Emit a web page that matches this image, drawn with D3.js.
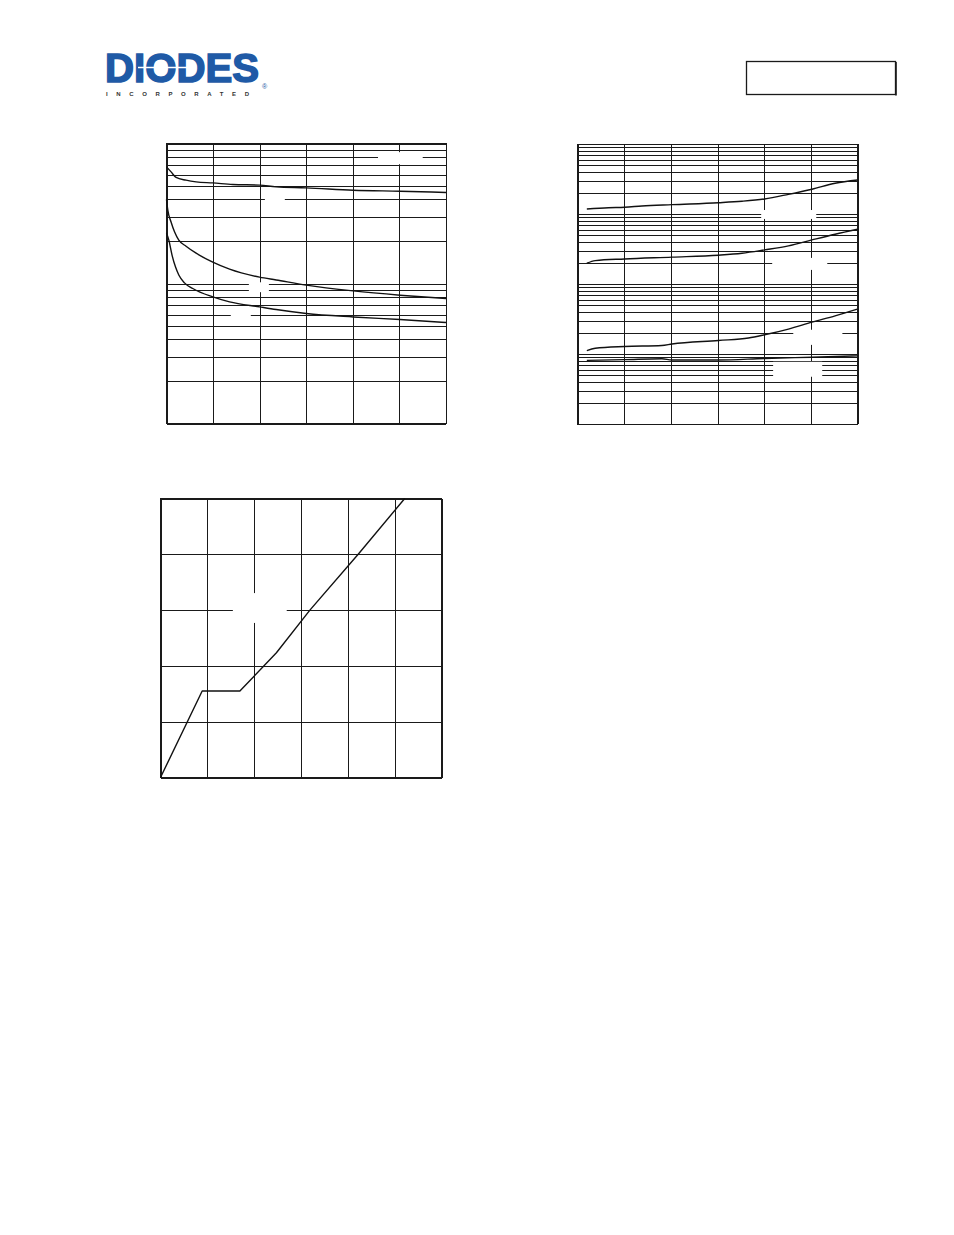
<!DOCTYPE html>
<html>
<head>
<meta charset="utf-8">
<script src="https://cdn.jsdelivr.net/npm/d3@7"></script>
<style>
  html, body { margin: 0; padding: 0; background: #fff; }
  svg { display: block; }
</style>
</head>
<body>
<svg id="page" width="954" height="1235"></svg>
<script>
// ---------- Chart 1: three decreasing curves, log y (2 decades) ----------
const c1XTicks = [0, 5, 10, 15, 20, 25, 30];
const c1CissX = [0, 0.49, 1.03, 2.1, 3.18, 4.97, 7.12, 9.99, 11.77, 15.0, 20.04, 25.06, 30];
const c1Ciss  = [681, 627, 572, 547, 532, 523, 510, 504, 490, 482, 464, 456, 447];
const c1CossX = [0, 0.14, 0.49, 0.86, 1.32, 2.1, 3.18, 4.97, 6.77, 9.99, 11.77, 15.0, 20.04, 25.06, 30];
const c1Coss  = [398, 334, 275, 234, 204, 184.7, 164.6, 142, 126.5, 111, 106, 97.3, 88.5, 82.5, 78.1];
const c1CrssX = [0, 0.25, 0.6, 0.97, 1.32, 1.93, 2.82, 4.97, 6.77, 9.99, 11.77, 15.0, 20.04, 25.06, 30];
const c1Crss  = [230, 204, 159, 131, 115, 101, 92.1, 80.2, 73.9, 68.1, 65.2, 61.1, 57.7, 55.3, 52.6];
// blank label areas (data units: x0, x1, yTop, yBottom)
const c1Labels = [[22.7, 27.5, 867, 711], [10.56, 12.7, 421, 375], [8.84, 10.99, 102, 86.7], [6.9, 9.05, 63.5, 57.5]];

// ---------- Chart 2: four increasing curves, log y (4 decades) ----------
const c2XTicks = [0, 25, 50, 75, 100, 125, 150];
const c2S1X = [5.0, 16.6, 25.2, 34.5, 50.6, 75.5, 88.1, 100.2, 113, 125.6, 138, 150];
const c2S1  = [11.8, 12.3, 12.5, 13.0, 13.6, 14.5, 15.2, 16.4, 19.1, 22.6, 27.5, 30.6];
const c2S2X = [5.0, 9.5, 25.2, 50.6, 75.5, 88.1, 100.2, 113, 125.6, 138, 150];
const c2S2  = [1.98, 2.16, 2.28, 2.42, 2.58, 2.75, 3.07, 3.50, 4.26, 5.14, 6.06];
const c2S3X = [5.0, 9.5, 25.2, 45.2, 50.6, 75.5, 91.6, 100.2, 113, 125.6, 138, 150];
const c2S3  = [0.112, 0.121, 0.128, 0.132, 0.139, 0.156, 0.169, 0.188, 0.227, 0.285, 0.351, 0.438];
const c2S4X = [5.0, 25.2, 45.2, 50.6, 75.5, 100.2, 125.6, 150];
const c2S4  = [0.081, 0.083, 0.0855, 0.082, 0.082, 0.0863, 0.090, 0.094];
const c2Labels = [[98.4, 127.9, 11.4, 8.5], [104.3, 133.8, 2.36, 1.59], [115.6, 141.9, 0.222, 0.135], [104.8, 131.1, 0.0774, 0.0473]];

// ---------- Chart 3: piecewise rising line, linear axes ----------
const c3XTicks = [0, 2, 4, 6, 8, 10, 12];
const c3YTicks = [0, 2, 4, 6, 8, 10];
const c3X = [0, 1.78, 3.39, 4.95, 6.38, 8.47, 10.43];
const c3Y = [0, 3.10, 3.10, 4.47, 6.0, 8.03, 10.0];
const c3Labels = [[3.09, 5.39, 6.61, 5.54]];

const svg = d3.select("#page");
const INK = "#1a1a1a";

// ---------- Header: logo and box ----------
const logo = svg.append("g");
logo.append("text")
  .attr("x", 105).attr("y", 82)
  .attr("font-family", "Liberation Sans, Arial, sans-serif")
  .attr("font-weight", "bold").attr("font-size", 41)
  .attr("textLength", 154).attr("lengthAdjust", "spacingAndGlyphs")
  .attr("fill", "#1f5aa6").attr("stroke", "#1f5aa6").attr("stroke-width", 1.6)
  .text("DIODES");
logo.append("line").attr("x1", 138).attr("x2", 196).attr("y1", 67.5).attr("y2", 67.5)
  .attr("stroke", "#fff").attr("stroke-width", 1.6);
logo.append("text")
  .attr("x", 106).attr("y", 96.3)
  .attr("font-family", "Liberation Sans, Arial, sans-serif")
  .attr("font-weight", "bold").attr("font-size", 6)
  .attr("textLength", 143).attr("lengthAdjust", "spacing")
  .attr("fill", "#333").text("INCORPORATED");
logo.append("text")
  .attr("x", 262).attr("y", 89)
  .attr("font-family", "Liberation Sans, Arial, sans-serif")
  .attr("font-size", 7).attr("fill", "#1f5aa6").text("®");

svg.append("rect").attr("x", 746.5).attr("y", 61.5).attr("width", 149).attr("height", 33)
  .attr("fill", "none").attr("stroke", INK).attr("stroke-width", 1.3);
svg.append("line").attr("x1", 896).attr("x2", 896).attr("y1", 62).attr("y2", 95.5)
  .attr("stroke", INK).attr("stroke-width", 1.6);

// ---------- generic chart builder ----------
function buildChart(cfg) {
  const g = svg.append("g").attr("transform", `translate(${cfg.left},${cfg.top})`);
  const x = d3.scaleLinear().domain(cfg.xDomain).range([0, cfg.w]);
  const y = (cfg.log ? d3.scaleLog() : d3.scaleLinear()).domain(cfg.yDomain).range([cfg.h, 0]);

  const gx = g.append("g").attr("transform", `translate(0,${cfg.h})`)
    .call(d3.axisBottom(x).tickValues(cfg.xTicks).tickSize(cfg.h).tickSizeOuter(0).tickFormat(""));
  gx.selectAll(".tick line").attr("y2", -cfg.h);
  const gy = g.append("g")
    .call(d3.axisLeft(y).tickValues(cfg.yTicks).tickSize(-cfg.w).tickSizeOuter(0).tickFormat(""));
  [gx, gy].forEach(a => {
    a.select(".domain").remove();
    a.selectAll(".tick line").attr("stroke", INK).attr("stroke-width", 1).attr("shape-rendering", "crispEdges");
  });

  // blank label patches
  g.selectAll("rect.lbl").data(cfg.labels).join("rect").attr("class", "lbl")
    .attr("x", d => x(d[0])).attr("width", d => x(d[1]) - x(d[0]))
    .attr("y", d => y(d[2])).attr("height", d => y(d[3]) - y(d[2]))
    .attr("fill", "#fff");

  g.append("rect").attr("width", cfg.w).attr("height", cfg.h)
    .attr("fill", "none").attr("stroke", INK).attr("stroke-width", 1).attr("shape-rendering", "crispEdges");

  const line = d3.line().x(d => x(d[0])).y(d => y(d[1])).curve(cfg.curve);
  cfg.series.forEach(s => {
    g.append("path").datum(d3.zip(s[0], s[1]))
      .attr("d", line).attr("fill", "none")
      .attr("stroke", "#111").attr("stroke-width", 1.4).attr("stroke-linejoin", "round");
  });
}

function logGrid(lo, hi) {
  const v = [];
  for (let e = Math.log10(lo); e < Math.log10(hi); e++) {
    for (let m = 1; m < 10; m++) v.push(+(m * Math.pow(10, e)).toPrecision(3));
  }
  v.push(hi);
  return v;
}

buildChart({
  left: 166.5, top: 143.5, w: 279.5, h: 280,
  xDomain: [0, 30], yDomain: [10, 1000], log: true,
  xTicks: c1XTicks, yTicks: logGrid(10, 1000),
  labels: c1Labels, curve: d3.curveMonotoneX,
  series: [[c1CissX, c1Ciss], [c1CossX, c1Coss], [c1CrssX, c1Crss]]
});

buildChart({
  left: 577.5, top: 144, w: 280, h: 280,
  xDomain: [0, 150], yDomain: [0.01, 100], log: true,
  xTicks: c2XTicks, yTicks: logGrid(0.01, 100),
  labels: c2Labels, curve: d3.curveMonotoneX,
  series: [[c2S1X, c2S1], [c2S2X, c2S2], [c2S3X, c2S3], [c2S4X, c2S4]]
});

buildChart({
  left: 160.5, top: 498.5, w: 281, h: 279,
  xDomain: [0, 12], yDomain: [0, 10], log: false,
  xTicks: c3XTicks, yTicks: c3YTicks,
  labels: c3Labels, curve: d3.curveLinear,
  series: [[c3X, c3Y]]
});
</script>
</body>
</html>
